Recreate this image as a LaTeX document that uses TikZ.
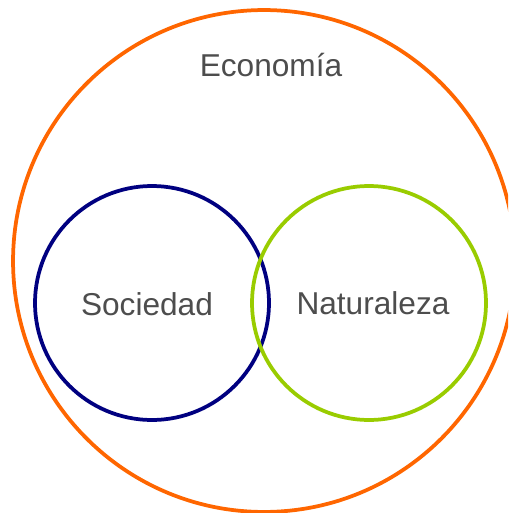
\documentclass[tikz,border=0pt]{standalone}
\usepackage{fontspec}
\setmainfont{Liberation Sans}
\usetikzlibrary{positioning}
\definecolor{econ}{HTML}{FF6600}
\definecolor{soc}{HTML}{000080}
\definecolor{nat}{HTML}{99CC00}
\definecolor{txt}{HTML}{4D4D4D}
\tikzset{
    ring/.style={
    circle,draw=#1,line width=0.075cm,inner sep=0pt
    },
    lbl/.style={
    text=txt,font=\fontsize{18}{21}\selectfont,inner sep=0pt
    },
}
\begin{document}
\begin{tikzpicture}[x=0.02cm, y=-0.02cm]
   \clip (0,0) rectangle (508,513);
   \node[ring=econ, minimum size=10.04cm] (economia) at (264,261) {};
   \node[ring=soc, minimum size=4.68cm] (sociedad) at (152,303) {};
   \node[ring=nat, minimum size=4.68cm] (naturaleza) at (369,303) {};

   \node[lbl] (teco) at (271,65) {Economía};
   \node[lbl] (tsoc) at (147,304) {Sociedad};
   \node[lbl] (tnat) at (373,303) {Naturaleza};
\end{tikzpicture}
\end{document}
